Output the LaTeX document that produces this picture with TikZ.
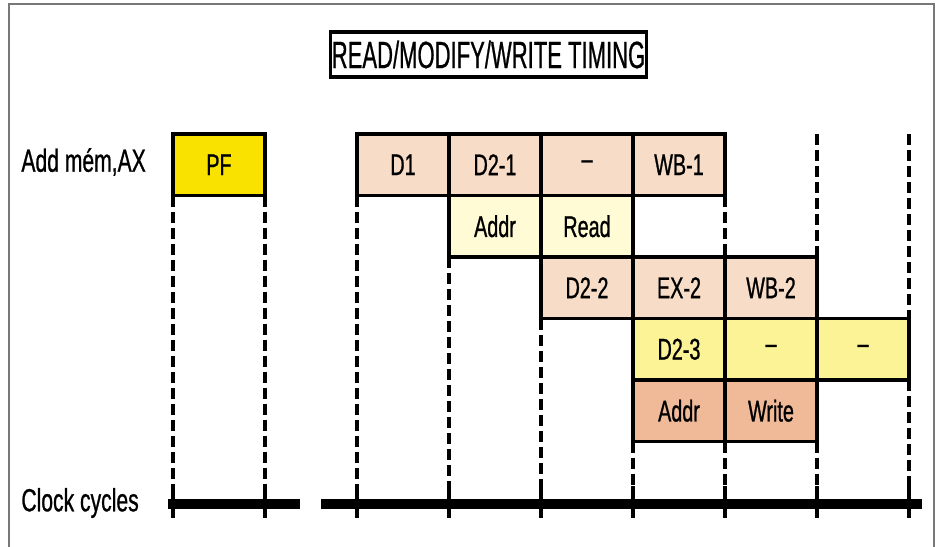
\documentclass[tikz,border=0pt]{standalone}
\usepackage{fontspec}
\newfontfamily\condsans[FakeStretch=0.66, FakeBold=0.8]{Liberation Sans}
\newfontfamily\titlesans[FakeStretch=0.58, FakeBold=0.6]{Liberation Sans}
\usetikzlibrary{positioning}
\definecolor{pfyellow}{RGB}{250,226,0}
\definecolor{pinkcell}{RGB}{247,221,200}
\definecolor{paleyel}{RGB}{255,251,212}
\definecolor{yelcell}{RGB}{252,242,150}
\definecolor{salmoncell}{RGB}{240,186,152}
\definecolor{framegray}{RGB}{120,120,120}
\tikzset{
    cell/.style={rectangle, draw=black, line width=1.8pt, outer sep=0pt, inner sep=0pt,
                 minimum width=46pt, minimum height=30.75pt, text centered,
                 font=\condsans\fontsize{15}{17}\selectfont},
    guide/.style={line width=1.6pt, dash pattern=on 5.5pt off 2.5pt},
    clock/.style={line width=5pt},
    tick/.style={line width=1.6pt}
}
\begin{document}
\begin{tikzpicture}[
    x=0.5pt, y=-0.5pt,
    lbl/.style={anchor=west, inner sep=0pt, font=\condsans\fontsize{16}{18}\selectfont},
    titlebox/.style={rectangle, draw=black, line width=1.7pt, inner sep=0pt,
                     minimum width=158pt, minimum height=22.5pt,
                     font=\titlesans\fontsize{19}{21}\selectfont}
]
\useasboundingbox (0,0) rectangle (942,546);

% frame
\draw[framegray, line width=0.8pt] (9,550) -- (9,4) -- (934,4) -- (934,550);

% title
\node[titlebox] (title) at (488.5,54.5) {READ/MODIFY/WRITE TIMING};

% labels
\node[lbl] (instr) at (21,162) {Add mém,AX};
\node[lbl] (clklbl) at (21,503) {Clock cycles};

% prefetch
\node[cell, fill=pfyellow] (pf) at (219,164.75) {PF};

% row 1
\node[cell, fill=pinkcell] (d1) at (403,164.75) {D1};
\node[cell, fill=pinkcell, right=0pt of d1] (dtwoa) {D2-1};
\node[cell, fill=pinkcell, right=0pt of dtwoa] (nopa) {\textendash};
\node[cell, fill=pinkcell, right=0pt of nopa] (wbone) {WB-1};

% row 2
\node[cell, fill=paleyel, below=0pt of dtwoa] (addra) {Addr};
\node[cell, fill=paleyel, right=0pt of addra] (read) {Read};

% row 3
\node[cell, fill=pinkcell, below=0pt of read] (dtwob) {D2-2};
\node[cell, fill=pinkcell, right=0pt of dtwob] (extwo) {EX-2};
\node[cell, fill=pinkcell, right=0pt of extwo] (wbtwo) {WB-2};

% row 4
\node[cell, fill=yelcell, below=0pt of extwo] (dtwoc) {D2-3};
\node[cell, fill=yelcell, right=0pt of dtwoc] (nopb) {\textendash};
\node[cell, fill=yelcell, right=0pt of nopb] (nopc) {\textendash};

% row 5
\node[cell, fill=salmoncell, below=0pt of dtwoc] (addrb) {Addr};
\node[cell, fill=salmoncell, right=0pt of addrb] (write) {Write};

% clock line
\coordinate (ticktop) at (0,486);
\coordinate (clka) at (168,504);
\coordinate (clkb) at (300,504);
\coordinate (clkc) at (321,504);
\coordinate (clkd) at (922,504);
\draw[clock] (clka) -- (clkb);
\draw[clock] (clkc) -- (clkd);
\foreach \k in {0,...,8}
    \draw[tick] ({173+92*\k},486) -- ({173+92*\k},518);

% guides
\draw[guide] (pf.south west) -- (pf.south west |- ticktop);
\draw[guide] (pf.south east) -- (pf.south east |- ticktop);
\draw[guide] (d1.south west) -- (d1.south west |- ticktop);
\draw[guide] (addra.south west) -- (addra.south west |- ticktop);
\draw[guide] (dtwob.south west) -- (dtwob.south west |- ticktop);
\draw[guide] (addrb.south west) -- (addrb.south west |- ticktop);
\draw[guide] (write.south west) -- (write.south west |- ticktop);
\draw[guide] (write.south east) -- (write.south east |- ticktop);
\draw[guide] (nopc.south east) -- (nopc.south east |- ticktop);
\draw[guide] (wbone.south east) -- (wbtwo.north west);
\draw[guide] (wbtwo.north east |- pf.north) -- (wbtwo.north east);
\draw[guide] (nopc.north east |- pf.north) -- (nopc.north east);

\end{tikzpicture}
\end{document}
